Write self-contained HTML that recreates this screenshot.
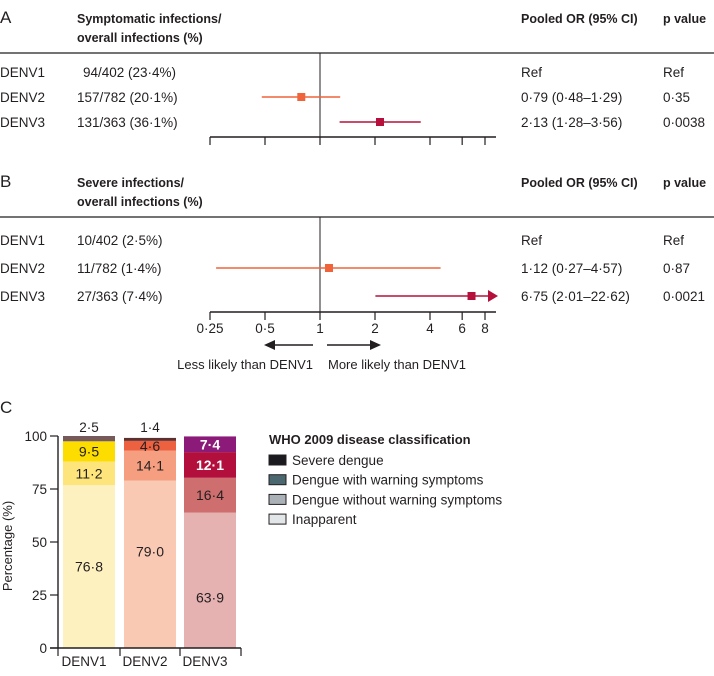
<!DOCTYPE html>
<html><head><meta charset="utf-8"><style>
body{margin:0;background:#fff;font-family:"Liberation Sans",sans-serif;}
svg text{font-family:"Liberation Sans",sans-serif;}
</style></head><body>
<svg id="fig" width="714" height="671" xmlns="http://www.w3.org/2000/svg"></svg>
<script>
const serotypes=["DENV1","DENV2","DENV3"];
const symCounts=["94/402 (23·4%)","157/782 (20·1%)","131/363 (36·1%)"];
const symOR=[null,0.79,2.13];
const symLo=[null,0.48,1.28];
const symHi=[null,1.29,3.56];
const symORText=["Ref","0·79 (0·48–1·29)","2·13 (1·28–3·56)"];
const symP=["Ref","0·35","0·0038"];
const sevCounts=["10/402 (2·5%)","11/782 (1·4%)","27/363 (7·4%)"];
const sevOR=[null,1.12,6.75];
const sevLo=[null,0.27,2.01];
const sevHi=[null,4.57,22.62];
const sevORText=["Ref","1·12 (0·27–4·57)","6·75 (2·01–22·62)"];
const sevP=["Ref","0·87","0·0021"];
const axisTicks=[0.25,0.5,1,2,4,6,8];
const axisTickLabels=["0·25","0·5","1","2","4","6","8"];
const classes=["Severe dengue","Dengue with warning symptoms","Dengue without warning symptoms","Inapparent"];
const inapparent=[76.8,79.0,63.9];
const withoutWarning=[11.2,14.1,16.4];
const withWarning=[9.5,4.6,12.1];
const severe=[2.5,1.4,7.4];
const yTicks=[0,25,50,75,100];

const NS="http://www.w3.org/2000/svg";
const svg=document.getElementById("fig");
function el(tag,attrs,parent){const e=document.createElementNS(NS,tag);for(const k in attrs)e.setAttribute(k,attrs[k]);(parent||svg).appendChild(e);return e;}
function txt(x,y,s,size,anchor,extra){const a=Object.assign({x:x,y:y,"font-size":size||13,"text-anchor":anchor||"start",style:"fill:#231f20"},extra||{});const t=el("text",a);t.textContent=s;return t;}
const fx=v=>320+55*Math.log2(v);
const XMAX=496;
const PX=663;

function forest(top,label,h1,h2,counts,or,lo,hi,ortext,p,rows,axisY,colors,showLabels){
  let t=txt(0,top+5,label,17);
  
  
  t=txt(77,top+5,h1,12.5,"start",{"font-weight":"bold"});
  
  
  txt(77,top+24,h2,12.5,"start",{"font-weight":"bold"});
  t=txt(521,top+5,"Pooled OR (95% CI)",12.5,"start",{"font-weight":"bold"});
  
  
  t=txt(PX,top+5,"p value",12.5,"start",{"font-weight":"bold"});
  
  
  let l=el("line",{x1:0,x2:714,y1:top+35,y2:top+35,stroke:"#231f20","stroke-width":1.2});
  
  
  l=el("line",{x1:320,x2:320,y1:top+35,y2:axisY,stroke:"#231f20","stroke-width":1});
  
  
  for(let i=0;i<3;i++){
    const y=rows[i];
    t=txt(0,y+5,serotypes[i],13.5);
    
    
    txt(label==="A"&&i===0?83:77,y+5,counts[i],13.5);
    txt(521,y+5,ortext[i],13.5);
    txt(PX,y+5,p[i],13.5);
    if(or[i]!=null){
      const x1=fx(lo[i]);let x2=fx(hi[i]);let arrow=false;
      if(x2>XMAX){x2=XMAX-8;arrow=true;}
      l=el("line",{x1:x1,x2:x2,y1:y,y2:y,stroke:colors[i],"stroke-width":1.6});
      
      
      if(arrow){const a=el("polygon",{points:`${x2},${y-6} ${XMAX+2},${y} ${x2},${y+6}`,fill:colors[i]});
        
        }
      const r=el("rect",{x:fx(or[i])-4,y:y-4,width:8,height:8,fill:colors[i]});
      
      
    }
  }
  l=el("line",{x1:fx(0.25),x2:XMAX,y1:axisY,y2:axisY,stroke:"#231f20","stroke-width":1.4});
  
  
  axisTicks.forEach((v,i)=>{
    el("line",{x1:fx(v),x2:fx(v),y1:axisY,y2:axisY+8,stroke:"#231f20","stroke-width":1.2});
    if(showLabels){const tl=txt(fx(v),axisY+21,axisTickLabels[i],13.5,"middle");
      
      }
  });
}
forest(18,"A","Symptomatic infections/","overall infections (%)",symCounts,symOR,symLo,symHi,symORText,symP,[72,97,122],137,["","#f0643c","#b5103c"],false);
forest(182,"B","Severe infections/","overall infections (%)",sevCounts,sevOR,sevLo,sevHi,sevORText,sevP,[240,268,296],312,["","#f0643c","#b5103c"],true);
el("line",{x1:313,x2:275,y1:345,y2:345,stroke:"#231f20","stroke-width":1.6});
el("polygon",{points:"264,345 275,340 275,350",fill:"#231f20"});
el("line",{x1:327,x2:370,y1:345,y2:345,stroke:"#231f20","stroke-width":1.6});
el("polygon",{points:"381,345 370,340 370,350",fill:"#231f20"});
let t=txt(313,369,"Less likely than DENV1",13,"end");


t=txt(328,369,"More likely than DENV1",13,"start");



// Panel C
t=txt(0,413,"C",17);


const y0=648,yTop=436;
const sy=v=>y0-(y0-yTop)*v/100;
const barX=[63,124,184],barW=52;
const colors=[["#fdf1c0","#fde57c","#fddc00","#76595a"],["#f9c9b4","#f69f80","#ee6140","#5a3030"],["#e6b1b1","#cf6e6e","#b20f3c","#8b1a78"]];
const labelColors=[["#231f20","#231f20","#231f20","#231f20"],["#231f20","#231f20","#231f20","#231f20"],["#231f20","#231f20","#fff","#fff"]];
for(let i=0;i<3;i++){
  const vals=[inapparent[i],withoutWarning[i],withWarning[i],severe[i]];
  let cum=0;
  vals.forEach((v,j)=>{
    const r=el("rect",{x:barX[i],y:sy(cum+v),width:barW,height:sy(cum)-sy(cum+v),fill:colors[i][j]});
    
    
    const s=String(v.toFixed(1)).replace(".","·");
    const mid=(sy(cum)+sy(cum+v))/2;
    if(j===3&&i<2){txt(barX[i]+barW/2,sy(100)-4,s,13.5,"middle");}
    else{
      let ty=mid+5; if(j===0&&i===2) ty=mid+22; if(j===0&&i===1) ty=mid-8;
      txt(barX[i]+barW/2,ty,s,14,"middle",{style:"fill:"+labelColors[i][j],"font-weight":(i===2&&j>=2)?"bold":"normal"});
    }
    cum+=v;
  });
}
let l=el("line",{x1:58,x2:58,y1:yTop,y2:y0,stroke:"#231f20","stroke-width":1.4});


l=el("line",{x1:50,x2:241,y1:y0,y2:y0,stroke:"#231f20","stroke-width":1.4});


yTicks.forEach(v=>{
  el("line",{x1:50,x2:58,y1:sy(v),y2:sy(v),stroke:"#231f20","stroke-width":1.2});
  const tl=txt(47,sy(v)+5,String(v),13.5,"end");
  
  
});
[58,120,180,241].forEach(x=>el("line",{x1:x,x2:x,y1:y0,y2:y0+8,stroke:"#231f20","stroke-width":1.2}));
serotypes.forEach((s,i)=>{const tl=txt(barX[i]+barW/2-5,y0+18,s,13.5,"middle");
  
  });
t=txt(0,0,"Percentage (%)",13,"middle",{transform:"translate(12,546) rotate(-90)"});


t=txt(269,444,"WHO 2009 disease classification",13,"start",{"font-weight":"bold"});


const swatch=["#1a1a1f","#4b6770","#aab1b7","#e3e6e8"];
classes.forEach((c,i)=>{
  const y=455+i*19.7;
  const r=el("rect",{x:269,y:y,width:17,height:10,fill:swatch[i],stroke:"#231f20","stroke-width":1});
  
  
  const tl=txt(292,y+10,c,13.5);
  
  
});
</script>
</body></html>
